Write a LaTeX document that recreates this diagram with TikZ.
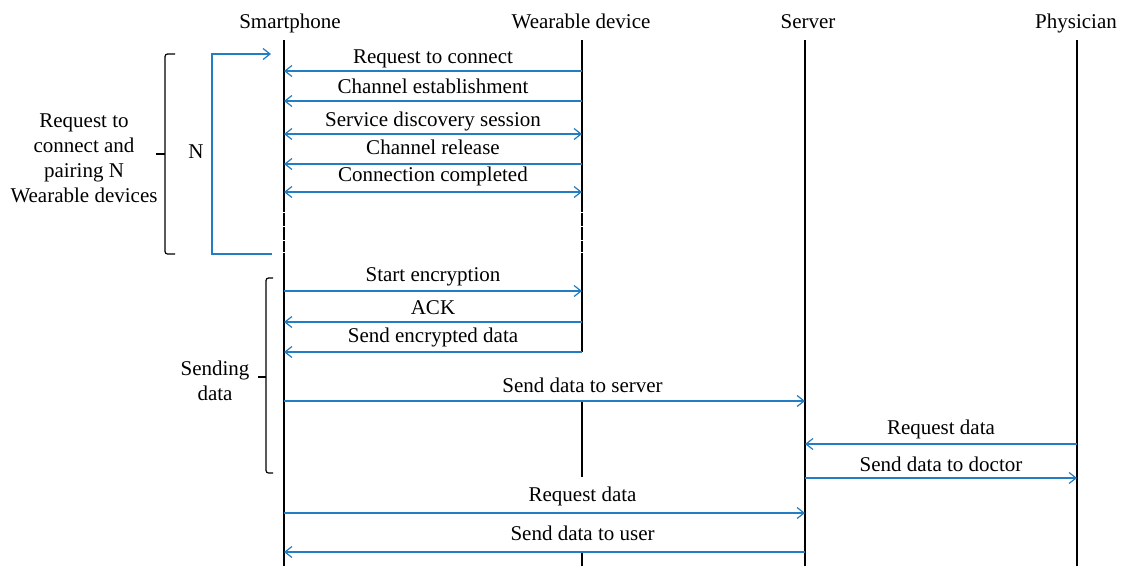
\documentclass[tikz,border=0pt]{standalone}
\usepackage{fontspec}
\setmainfont{Liberation Serif}
\usetikzlibrary{arrows.meta}
\definecolor{msgblue}{RGB}{35,125,195}
\begin{document}
\begin{tikzpicture}[x=1pt,y=-1pt,
  every node/.style={font=\fontsize{21}{25}\selectfont, inner sep=0pt, text=black},
  life/.style={line width=1.3pt, black},
  lifedash/.style={life, dash pattern=on 12.5pt off 1.5pt},
  brk/.style={line width=1.2pt, black, rounded corners=2.5pt},
  msg/.style={line width=1.2pt, msgblue},
  msgR/.style={msg, -{Straight Barb[length=7pt,width=11pt]}},
  msgL/.style={msg, {Straight Barb[length=7pt,width=11pt]}-},
  msgB/.style={msg, {Straight Barb[length=7pt,width=11pt]}-{Straight Barb[length=7pt,width=11pt]}},
  lbl/.style={midway, anchor=base, yshift=#1},
  lbl/.default=9pt]
\fill[white] (0,0) rectangle (1123,571);
\useasboundingbox (0,0) rectangle (1123,571);

% participants
\node[anchor=base] (hSP) at (290,28) {Smartphone};
\node[anchor=base] (hWD) at (581,28) {Wearable device};
\node[anchor=base] (hSV) at (808,28) {Server};
\node[anchor=base] (hPH) at (1076,28) {Physician};

% lifelines
\draw[life] (284,40) -- (284,211.5);
\draw[lifedash] (284,213) -- (284,251.5);
\draw[life] (284,253) -- (284,566);
\draw[life] (582,40) -- (582,211.5);
\draw[lifedash] (582,213) -- (582,251.5);
\draw[life] (582,253) -- (582,352);
\draw[life] (582,401) -- (582,477);
\draw[life] (582,553) -- (582,566);
\draw[life] (805,40) -- (805,566);
\draw[life] (1077,40) -- (1077,566);

% message anchor points on the lifelines
\foreach \i/\y in {1/71,2/101,3/134,4/164,5/192,6/291,7/322,8/352,9/401,12/513,13/552}{
  \coordinate (sp\i) at (284,\y);
  \coordinate (wd\i) at (582,\y);
  \coordinate (sv\i) at (805,\y);
}
\foreach \i/\y in {10/444,11/478}{
  \coordinate (sv\i) at (805,\y);
  \coordinate (ph\i) at (1077,\y);
}

% pairing phase
\draw[msgL] (sp1) -- node[lbl=8pt] {Request to connect} (wd1);
\draw[msgL] (sp2) -- node[lbl=8pt] {Channel establishment} (wd2);
\draw[msgB] (sp3) -- node[lbl=8pt] {Service discovery session} (wd3);
\draw[msgL] (sp4) -- node[lbl=10pt] {Channel release} (wd4);
\draw[msgB] (sp5) -- node[lbl=10.5pt] {Connection completed} (wd5);

% repeat loop for N devices
\coordinate (lpA) at (272,254);
\coordinate (lpB) at (212,254);
\coordinate (lpC) at (212,54);
\coordinate (lpD) at (271,54);
\draw[msgR] (lpA) -- (lpB) -- (lpC) -- (lpD);
\node[anchor=base] (nN) at (196,158) {N};

% brace of the pairing phase
\coordinate (bA1) at (175,54);
\coordinate (bA2) at (165,54);
\coordinate (bA3) at (165,254);
\coordinate (bA4) at (175,254);
\coordinate (bAt) at (156,154);
\coordinate (bAm) at (165,154);
\draw[brk] (bA1) -- (bA2) -- (bA3) -- (bA4);
\draw[brk] (bAt) -- (bAm);
\node[align=center] (tPair) at (84,158) {Request to\\connect and\\pairing N\\Wearable devices};

% data phase
\draw[msgR] (sp6) -- node[lbl=10pt] {Start encryption} (wd6);
\draw[msgL] (sp7) -- node[lbl=7.5pt] {ACK} (wd7);
\draw[msgL] (sp8) -- node[lbl=10pt] {Send encrypted data} (wd8);
\draw[msgR] (sp9) -- node[lbl=8.6pt, pos=0.573] {Send data to server} (sv9);

% brace of the data phase
\coordinate (bB1) at (273,278);
\coordinate (bB2) at (266,278);
\coordinate (bB3) at (266,473);
\coordinate (bB4) at (273,473);
\coordinate (bBt) at (258,377);
\coordinate (bBm) at (266,377);
\draw[brk] (bB1) -- (bB2) -- (bB3) -- (bB4);
\draw[brk] (bBt) -- (bBm);
\node[align=center] (tSend) at (215,381) {Sending\\data};

% physician exchange
\draw[msgL] (sv10) -- node[lbl=9.3pt] {Request data} (ph10);
\draw[msgR] (sv11) -- node[lbl=7pt] {Send data to doctor} (ph11);

% user request
\draw[msgR] (sp12) -- node[lbl=12pt, pos=0.573] {Request data} (sv12);
\draw[msgL] (sp13) -- node[lbl=12pt, pos=0.573] {Send data to user} (sv13);
\end{tikzpicture}
\end{document}
